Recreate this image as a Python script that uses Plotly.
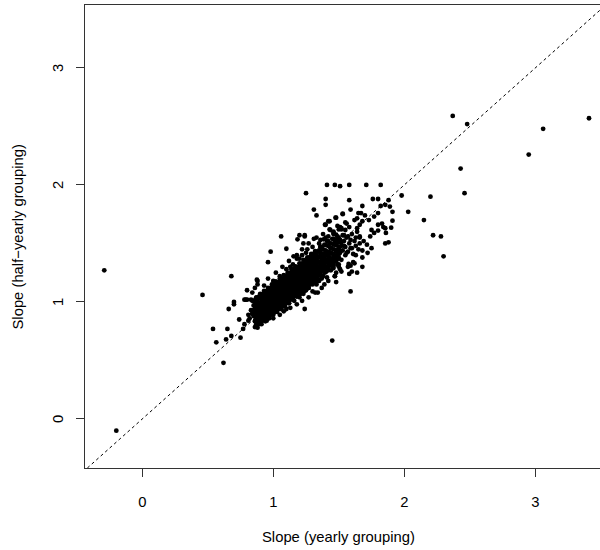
import plotly.graph_objects as go

# Outliers and sparse points (yearly slope, half-yearly slope)
out_x = [-0.29, -0.198, 2.37, 2.48, 3.41, 3.06, 2.95, 2.43, 2.46, 2.20, 2.15, 2.22, 2.28, 2.30, 1.45, 1.24, 1.59, 1.68, 1.64]
out_y = [1.27, -0.10, 2.59, 2.52, 2.57, 2.48, 2.26, 2.14, 1.93, 1.90, 1.70, 1.57, 1.56, 1.39, 0.67, 0.94, 1.09, 1.30, 1.25]

# Lower-left tail
tail_x = [0.62, 0.565, 0.54, 0.46, 0.68, 0.64, 0.68, 0.75, 0.65, 0.77, 0.78, 0.74, 0.81, 0.875, 0.66, 0.70, 0.70, 0.79, 0.83, 0.88, 0.96, 0.81, 0.84, 0.85]
tail_y = [0.48, 0.655, 0.77, 1.06, 1.22, 0.68, 0.71, 0.695, 0.77, 0.77, 0.81, 0.85, 0.84, 0.80, 0.94, 1.00, 0.98, 1.02, 1.02, 1.18, 1.34, 0.89, 0.90, 0.93]

# Upper scatter
up_x = [1.41, 1.47, 1.51, 1.58, 1.71, 1.82, 1.25, 1.40, 1.40, 1.58, 1.76, 1.80, 1.98, 2.03, 1.31, 1.33, 1.53, 1.59, 1.68, 1.48, 1.43, 1.40,
        1.82, 1.855, 1.88, 1.89, 1.91, 1.91, 1.90, 1.86, 1.88, 1.855, 1.80, 1.77, 1.73, 1.70,
        1.65, 1.67, 1.64, 1.68, 1.66, 1.64, 1.83, 1.80, 1.84, 1.75, 1.77, 1.74, 1.80, 1.855, 1.24, 1.31, 1.36, 1.42, 1.46, 1.50, 1.52, 1.54,
        1.57, 1.59, 1.63, 1.66, 1.69, 1.715, 1.75, 1.68,
        1.06, 1.20, 1.24, 1.185, 0.98, 1.10, 1.23, 1.155, 1.18, 1.13,
        1.395, 1.42, 1.475, 1.53, 1.385, 1.51, 1.56, 1.55, 1.435, 1.46,
        0.875, 0.86, 0.80, 0.84, 0.89]
up_y = [2.00, 2.00, 1.99, 2.00, 2.00, 2.00, 1.93, 1.88, 1.83, 1.87, 1.88, 1.88, 1.91, 1.77, 1.79, 1.74, 1.755, 1.79, 1.82, 1.72, 1.69, 1.66,
        1.82, 1.83, 1.87, 1.815, 1.77, 1.695, 1.635, 1.59, 1.51, 1.50, 1.76, 1.73, 1.70, 1.74,
        1.76, 1.76, 1.715, 1.69, 1.66, 1.63, 1.67, 1.66, 1.64, 1.615, 1.59, 1.56, 1.61, 1.63, 1.57, 1.54, 1.53, 1.56, 1.60, 1.62, 1.63, 1.57,
        1.56, 1.53, 1.55, 1.56, 1.52, 1.49, 1.46, 1.44,
        1.56, 1.57, 1.56, 1.535, 1.43, 1.455, 1.50, 1.39, 1.37, 1.30,
        1.66, 1.69, 1.72, 1.75, 1.535, 1.64, 1.67, 1.615, 1.615, 1.59,
        1.19, 1.12, 1.02, 1.01, 1.045]

# Lower-right edge of the cluster
edge_x = [1.58, 1.60, 1.575, 1.61, 1.59, 1.51, 1.48, 1.47, 1.48, 1.41, 1.39, 1.34, 1.30, 1.35, 1.33, 1.37, 1.50, 1.46]
edge_y = [1.24, 1.26, 1.325, 1.34, 1.31, 1.28, 1.25, 1.22, 1.17, 1.21, 1.15, 1.08, 1.09, 1.18, 1.15, 1.20, 1.30, 1.29]

# Core band
core_x = [0.82, 0.83, 0.84, 0.85, 0.85, 0.86, 0.86, 0.87, 0.87, 0.88, 0.88, 0.89, 0.89, 0.90, 0.90, 0.90, 0.91, 0.91,
          0.92, 0.92, 0.92, 0.93, 0.93, 0.94, 0.94, 0.94, 0.95, 0.95, 0.95, 0.96, 0.96, 0.96, 0.97, 0.97, 0.97, 0.98, 0.98, 0.98, 0.99, 0.99, 0.99, 1.00, 1.00, 1.00, 1.00,
          1.01, 1.01, 1.01, 1.02, 1.02, 1.02, 1.03, 1.03, 1.03, 1.04, 1.04, 1.04, 1.05, 1.05, 1.05, 1.06, 1.06, 1.06, 1.07, 1.07, 1.07, 1.08, 1.08, 1.08, 1.09, 1.09, 1.09, 1.10, 1.10, 1.10, 1.10,
          1.11, 1.11, 1.11, 1.12, 1.12, 1.12, 1.13, 1.13, 1.13, 1.14, 1.14, 1.14, 1.15, 1.15, 1.15, 1.16, 1.16, 1.16, 1.17, 1.17, 1.17, 1.18, 1.18, 1.18, 1.19, 1.19, 1.19, 1.20, 1.20, 1.20,
          1.21, 1.21, 1.21, 1.22, 1.22, 1.22, 1.23, 1.23, 1.23, 1.24, 1.24, 1.24, 1.25, 1.25, 1.25, 1.26, 1.26, 1.26, 1.27, 1.27, 1.27, 1.28, 1.28, 1.28, 1.29, 1.29, 1.29, 1.30, 1.30, 1.30,
          1.31, 1.31, 1.31, 1.32, 1.32, 1.32, 1.33, 1.33, 1.33, 1.34, 1.34, 1.34, 1.35, 1.35, 1.35, 1.36, 1.36, 1.36, 1.37, 1.37, 1.37, 1.38, 1.38, 1.39, 1.39, 1.39, 1.40, 1.40, 1.40,
          1.41, 1.41, 1.42, 1.42, 1.42, 1.43, 1.43, 1.44, 1.44, 1.45, 1.45, 1.46, 1.46, 1.47, 1.47, 1.48, 1.48, 1.49, 1.49, 1.50, 1.50,
          1.51, 1.52, 1.52, 1.53, 1.54, 1.55, 1.55, 1.56, 1.57, 1.58, 1.59, 1.60, 1.61, 1.62, 1.63, 1.64, 1.65, 1.66,
          1.22, 1.26, 1.28, 1.32, 1.36, 1.38, 1.42, 1.44, 1.48, 1.50, 1.54, 1.56, 1.60, 1.63, 1.66,
          1.35, 1.37, 1.39, 1.41, 1.43, 1.45, 1.47, 1.49, 1.51, 1.53, 1.36, 1.40, 1.44, 1.48, 1.52, 1.38, 1.42, 1.46, 1.50]
core_y = [0.86, 0.93, 0.90, 0.97, 0.88, 0.94, 1.00, 0.91, 0.85, 0.96, 1.03, 0.93, 0.88, 0.99, 0.95, 0.90, 1.06, 0.86,
          0.94, 0.99, 1.02, 0.91, 0.97, 1.04, 0.95, 0.89, 1.00, 0.93, 1.08, 0.97, 1.02, 0.92, 0.99, 1.05, 0.88, 0.95, 1.01, 1.10, 0.97, 0.92, 1.03, 1.00, 0.94, 1.07, 0.90,
          1.02, 0.96, 1.12, 0.99, 1.05, 0.93, 1.08, 1.01, 0.97, 1.04, 1.15, 0.95, 1.00, 1.06, 1.11, 0.98, 1.03, 1.09, 1.05, 0.96, 1.18, 1.01, 1.08, 1.13, 1.04, 0.99, 1.10, 1.07, 1.02, 1.15, 0.94,
          1.09, 1.04, 1.20, 1.12, 1.06, 0.99, 1.10, 1.15, 1.03, 1.08, 1.18, 1.12, 1.05, 1.11, 1.24, 1.14, 1.09, 1.01, 1.12, 1.19, 1.06, 1.15, 1.10, 1.27, 1.13, 1.07, 1.20, 1.16, 1.11, 1.04,
          1.14, 1.22, 1.09, 1.18, 1.12, 1.29, 1.16, 1.21, 1.07, 1.19, 1.13, 1.25, 1.17, 1.23, 1.10, 1.20, 1.15, 1.32, 1.22, 1.18, 1.12, 1.25, 1.19, 1.28, 1.21, 1.16, 1.35, 1.24, 1.19, 1.29,
          1.26, 1.21, 1.32, 1.23, 1.29, 1.17, 1.27, 1.33, 1.22, 1.30, 1.25, 1.38, 1.28, 1.23, 1.34, 1.31, 1.26, 1.41, 1.29, 1.35, 1.22, 1.33, 1.28, 1.31, 1.37, 1.25, 1.34, 1.29, 1.44,
          1.36, 1.30, 1.33, 1.40, 1.27, 1.38, 1.32, 1.35, 1.46, 1.37, 1.30, 1.41, 1.34, 1.39, 1.50, 1.36, 1.43, 1.40, 1.32, 1.45, 1.38,
          1.42, 1.48, 1.36, 1.44, 1.52, 1.40, 1.47, 1.55, 1.43, 1.50, 1.46, 1.58, 1.41, 1.52, 1.48, 1.60, 1.45, 1.55,
          1.40, 1.45, 1.38, 1.43, 1.47, 1.40, 1.48, 1.42, 1.50, 1.45, 1.48, 1.42, 1.46, 1.40, 1.50,
          1.44, 1.47, 1.49, 1.52, 1.50, 1.54, 1.52, 1.56, 1.53, 1.57, 1.38, 1.42, 1.46, 1.49, 1.51, 1.30, 1.34, 1.37, 1.41]

# Densest part of the cluster (estimated, the marks overlap into a solid blob)
dense_x = [0.86] * 6 + [0.87] * 6 + [0.88] * 6 + [0.89] * 6 + [0.90] * 6 + [0.91] * 6 + [0.92] * 6 + [0.93] * 6 + [0.94] * 6 + [0.95] * 6 \
    + [0.96] * 6 + [0.97] * 6 + [0.98] * 6 + [0.99] * 6 + [1.00] * 6 + [1.01] * 6 + [1.02] * 6 + [1.03] * 6 + [1.04] * 6 + [1.05] * 6 \
    + [1.06] * 6 + [1.07] * 6 + [1.08] * 6 + [1.09] * 6 + [1.10] * 6 + [1.11] * 6 + [1.12] * 6 + [1.13] * 6 + [1.14] * 6 + [1.15] * 6 \
    + [1.16] * 6 + [1.17] * 6 + [1.18] * 6 + [1.19] * 6 + [1.20] * 6 + [1.21] * 6 + [1.22] * 6 + [1.23] * 6 + [1.24] * 6 + [1.25] * 6 \
    + [1.26] * 6 + [1.27] * 6 + [1.28] * 6 + [1.29] * 6 + [1.30] * 6 + [1.31] * 6 + [1.32] * 6 + [1.33] * 6 + [1.34] * 6 + [1.36] * 6 \
    + [1.38] * 6 + [1.40] * 6 + [1.42] * 6 + [1.44] * 6 + [1.46] * 6 + [1.48] * 6 + [1.50] * 6
dense_y = [0.785, 0.835, 0.875, 0.925, 0.965, 1.015,
           0.81, 0.86, 0.91, 0.95, 1.00, 1.04,
           0.78, 0.83, 0.88, 0.93, 0.97, 1.01,
           0.81, 0.86, 0.90, 0.95, 0.99, 1.04,
           0.84, 0.89, 0.94, 0.98, 1.03, 1.07,
           0.81, 0.86, 0.91, 0.96, 1.00, 1.04,
           0.84, 0.89, 0.93, 0.98, 1.02, 1.07,
           0.865, 0.915, 0.965, 1.005, 1.055, 1.095,
           0.835, 0.885, 0.935, 0.985, 1.025, 1.065,
           0.86, 0.91, 0.95, 1.00, 1.04, 1.09,
           0.89, 0.94, 0.99, 1.03, 1.08, 1.12,
           0.86, 0.91, 0.96, 1.01, 1.05, 1.09,
           0.89, 0.94, 0.98, 1.03, 1.07, 1.12,
           0.92, 0.97, 1.02, 1.06, 1.11, 1.15,
           0.89, 0.94, 0.99, 1.04, 1.08, 1.12,
           0.915, 0.965, 1.005, 1.055, 1.095, 1.145,
           0.945, 0.995, 1.045, 1.085, 1.135, 1.175,
           0.915, 0.965, 1.015, 1.065, 1.105, 1.145,
           0.94, 0.99, 1.03, 1.08, 1.12, 1.17,
           0.97, 1.02, 1.07, 1.11, 1.16, 1.20,
           0.94, 0.99, 1.04, 1.09, 1.13, 1.17,
           0.97, 1.02, 1.06, 1.11, 1.15, 1.20,
           1.00, 1.05, 1.10, 1.14, 1.19, 1.23,
           0.965, 1.015, 1.065, 1.115, 1.155, 1.195,
           0.995, 1.045, 1.085, 1.135, 1.175, 1.225,
           1.02, 1.07, 1.12, 1.16, 1.21, 1.25,
           0.99, 1.04, 1.09, 1.14, 1.18, 1.22,
           1.02, 1.07, 1.11, 1.16, 1.20, 1.25,
           1.05, 1.10, 1.15, 1.19, 1.24, 1.28,
           1.02, 1.07, 1.12, 1.17, 1.21, 1.25,
           1.05, 1.10, 1.14, 1.19, 1.23, 1.28,
           1.075, 1.125, 1.175, 1.215, 1.265, 1.305,
           1.045, 1.095, 1.145, 1.195, 1.235, 1.275,
           1.07, 1.12, 1.16, 1.21, 1.25, 1.30,
           1.10, 1.15, 1.20, 1.24, 1.29, 1.33,
           1.07, 1.12, 1.17, 1.22, 1.26, 1.30,
           1.10, 1.15, 1.19, 1.24, 1.28, 1.33,
           1.13, 1.18, 1.23, 1.27, 1.32, 1.36,
           1.095, 1.145, 1.195, 1.245, 1.285, 1.325,
           1.125, 1.175, 1.215, 1.265, 1.305, 1.355,
           1.15, 1.20, 1.25, 1.29, 1.34, 1.38,
           1.12, 1.17, 1.22, 1.27, 1.31, 1.35,
           1.15, 1.20, 1.24, 1.29, 1.33, 1.38,
           1.18, 1.23, 1.28, 1.32, 1.37, 1.41,
           1.15, 1.20, 1.25, 1.30, 1.34, 1.38,
           1.18, 1.23, 1.27, 1.32, 1.36, 1.41,
           1.205, 1.255, 1.305, 1.345, 1.395, 1.435,
           1.17, 1.22, 1.27, 1.32, 1.36, 1.40,
           1.20, 1.25, 1.29, 1.34, 1.38, 1.43,
           1.24, 1.29, 1.34, 1.38, 1.43, 1.47,
           1.22, 1.27, 1.32, 1.37, 1.41, 1.45,
           1.255, 1.305, 1.345, 1.395, 1.435, 1.485,
           1.29, 1.34, 1.39, 1.43, 1.48, 1.52,
           1.27, 1.32, 1.37, 1.42, 1.46, 1.50,
           1.31, 1.36, 1.40, 1.45, 1.49, 1.54,
           1.345, 1.395, 1.445, 1.485, 1.535, 1.575,
           1.32, 1.37, 1.42, 1.47, 1.51, 1.55]

# Scatter above and below the band
above_x = [0.78, 0.80, 0.84, 0.88, 0.93, 0.96, 1.00, 1.02, 1.05, 1.07, 1.10, 1.12, 1.15, 1.18, 1.20, 1.22, 1.25, 1.27, 1.30, 1.33, 1.35, 1.38, 1.40, 1.43, 1.46, 1.49, 1.52, 1.55, 1.58, 1.62]
above_y = [1.02, 1.10, 1.08, 1.15, 1.14, 1.20, 1.18, 1.25, 1.22, 1.30, 1.28, 1.35, 1.32, 1.40, 1.37, 1.45, 1.42, 1.50, 1.47, 1.55, 1.50, 1.58, 1.55, 1.62, 1.58, 1.65, 1.62, 1.68, 1.64, 1.70]
below_x = [0.90, 0.95, 1.00, 1.05, 1.08, 1.13, 1.18, 1.22, 1.27, 1.32, 1.37, 1.42, 1.47, 1.52, 1.57, 1.62, 1.68, 1.72]
below_y = [0.82, 0.84, 0.86, 0.89, 0.92, 0.95, 0.98, 1.01, 1.04, 1.08, 1.12, 1.18, 1.22, 1.26, 1.30, 1.33, 1.38, 1.42]

slope_yearly = out_x + tail_x + up_x + edge_x + core_x + dense_x + above_x + below_x
slope_halfyearly = out_y + tail_y + up_y + edge_y + core_y + dense_y + above_y + below_y

identity_line = [-1, 4]
tick_vals = [0, 1, 2, 3]
tick_text = ["0", "1", "2", "3"]

FONT = "Liberation Sans, Arial, Helvetica, sans-serif"

fig = go.Figure()
fig.add_trace(go.Scatter(x=slope_yearly, y=slope_halfyearly, mode="markers",
                         marker=dict(color="black", size=4.8, line=dict(width=0)),
                         showlegend=False, hoverinfo="skip"))
fig.add_trace(go.Scatter(x=identity_line, y=identity_line, mode="lines",
                         line=dict(color="black", width=1, dash="3px,3px"),
                         showlegend=False, hoverinfo="skip"))

annotations = [
    dict(text="Slope (yearly grouping)", xref="paper", yref="paper",
         x=(338 - 85) / 515, y=-(537 - 468) / 463, showarrow=False,
         xanchor="center", yanchor="middle", font=dict(size=14.8)),
    dict(text="Slope (half\u2212yearly grouping)", xref="paper", yref="paper",
         x=-(85 - 17) / 515, y=0.5, showarrow=False, textangle=-90,
         xanchor="center", yanchor="middle", font=dict(size=14.8)),
]
for v, t in zip(tick_vals, tick_text):
    annotations.append(dict(text=t, xref="paper", yref="y", x=-(85 - 58) / 515, y=v,
                            showarrow=False, textangle=-90, xanchor="center",
                            yanchor="middle", font=dict(size=14.8)))

fig.update_layout(
    width=600, height=550,
    margin=dict(l=85, r=0, t=5, b=82),
    plot_bgcolor="white", paper_bgcolor="white",
    font=dict(family=FONT, size=14.8, color="black"),
    xaxis=dict(range=[-0.437, 3.494], tickvals=tick_vals, ticktext=tick_text,
               showgrid=False, zeroline=False, showline=True, mirror=True,
               linecolor="#333333", linewidth=1, ticks="outside", ticklen=8,
               tickcolor="#333333", tickwidth=1, ticklabelstandoff=12),
    yaxis=dict(range=[-0.419, 3.538], tickvals=tick_vals, showticklabels=False,
               showgrid=False, zeroline=False, showline=True, mirror=False,
               linecolor="#333333", linewidth=1, ticks="outside", ticklen=8,
               tickcolor="#333333", tickwidth=1),
    annotations=annotations,
)

fig.write_html("out.html")
